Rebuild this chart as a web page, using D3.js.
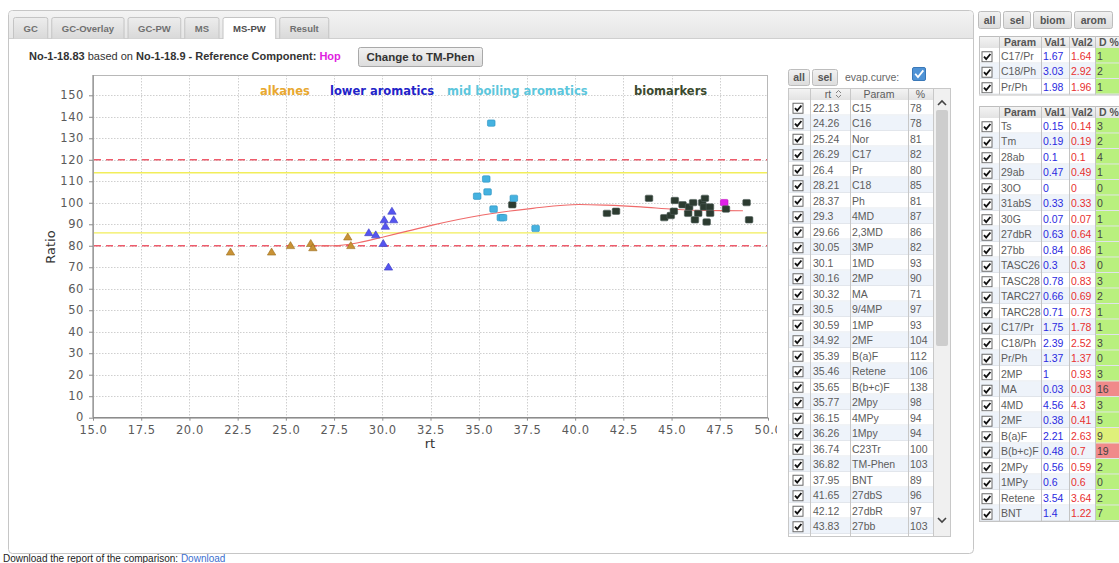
<!DOCTYPE html>
<html><head><meta charset="utf-8">
<script src="https://cdn.jsdelivr.net/npm/d3@7"></script>
<style>
html,body{margin:0;padding:0;background:#fff;overflow:hidden}
svg{display:block}
</style></head><body>
<svg id="root" width="1119" height="563"></svg>
<script>
// ---------------- DATA ----------------
const tabs = ["GC","GC-Overlay","GC-PW","MS","MS-PW","Result"];
const activeTab = "MS-PW";
const sampleName = "No-1-18.83";
const baseName = "No-1-18.9";
const referenceComponent = "Hop";
const switchTarget = "TM-Phen";

const groupNames = ["alkanes","lower aromatics","mid boiling aromatics","biomarkers"];

const rtValues = [22.13,24.26,25.24,26.29,26.4,28.21,28.37,29.3,29.66,30.05,30.1,30.16,30.32,30.5,30.59,
  34.92,35.39,35.46,35.65,35.77,36.15,36.26,36.74,36.82,37.95,41.65,42.12,43.83,
  44.62,44.96,45.12,45.17,45.57,45.86,45.91,46.12,46.21,46.38,46.59,46.68,46.73,46.82,46.99,47.0,47.73,47.82,48.89,49.02];
const paramNames = ["C15","C16","Nor","C17","Pr","C18","Ph","4MD","2,3MD","3MP","1MD","2MP","MA","9/4MP","1MP",
  "2MF","B(a)F","Retene","B(b+c)F","2Mpy","4MPy","1Mpy","C23Tr","TM-Phen","BNT","27dbS","27dbR","27bb",
  "Ts","Tm","28ab","29ab","29Ts","30d","29ba","30ab","30O","30ba","31abS","31abR","30G","32abS","32abR","33abS","Hop","33abR","34abS","34abR"];
const ratioValues = [78,78,81,82,80,85,81,87,86,82,93,90,71,97,93,
  104,112,106,138,98,94,94,100,103,89,96,97,103,
  94,95,97,102,100,96,99,101,93,96,101,99,103,92,99,96,101,98,101,93];
const groupOf = [0,0,0,0,0,0,0,1,1,1,1,1,1,1,1,
  2,2,2,2,2,2,2,3,2,2,3,3,3,
  3,3,3,3,3,3,3,3,3,3,3,3,3,3,3,3,3,3,3,3];

// evaporation curve
const curveRt =    [26.3,27.5,28.8,30.0,31.3,32.6,35.2,37.8,40.2,41.6,43.4,45.1,46.8,48.7];
const curveRatio = [80,  80,  81.5,84,  86.8,89.6,94.3,97.4,99.2,98.9,98.1,97.0,96.4,96.3];

const dashedLimits = [80,120];
const yellowLimits = [86,114];
const xTicks = [15,17.5,20,22.5,25,27.5,30,32.5,35,37.5,40,42.5,45,47.5,50];
const yTicks = [0,10,20,30,40,50,60,70,80,90,100,110,120,130,140,150];

// right-side tables
const t1Params = ["C17/Pr","C18/Ph","Pr/Ph"];
const t1Val1 = [1.67,3.03,1.98];
const t1Val2 = [1.64,2.92,1.96];
const t1D = [1,2,1];

const t2Params = ["Ts","Tm","28ab","29ab","30O","31abS","30G","27dbR","27bb","TASC26","TASC28","TARC27","TARC28",
  "C17/Pr","C18/Ph","Pr/Ph","2MP","MA","4MD","2MF","B(a)F","B(b+c)F","2MPy","1MPy","Retene","BNT"];
const t2Val1 = [0.15,0.19,0.1,0.47,0,0.33,0.07,0.63,0.84,0.3,0.78,0.66,0.71,1.75,2.39,1.37,1,0.03,4.56,0.38,2.21,0.48,0.56,0.6,3.54,1.4];
const t2Val2 = [0.14,0.19,0.1,0.49,0,0.33,0.07,0.64,0.86,0.3,0.83,0.69,0.73,1.78,2.52,1.37,0.93,0.03,4.3,0.41,2.63,0.7,0.59,0.6,3.64,1.22];
const t2D = [3,2,4,1,0,0,1,1,1,0,3,2,1,1,3,0,3,16,3,5,9,19,2,0,2,7];

// ---------------- STYLE / LAYOUT ----------------
const UI = "'Liberation Sans', Arial, sans-serif";
const CH = "'DejaVu Sans', sans-serif";
const groupLegendColor = ["#e8a830","#2323c8","#5cc6dc","#3b4a2e"];
const groupFill = ["#c99235","#5555f0","#45b2e0","#2c3b30"];
const groupStroke = ["#9a6e20","#3a3ac0","#2a90c0","#50605a"];
const legendX = [260,330,447,634];

const svg = d3.select("#root");
const defs = svg.append("defs");
function grad(id, c1, c2){
  const g = defs.append("linearGradient").attr("id",id).attr("x1",0).attr("y1",0).attr("x2",0).attr("y2",1);
  g.append("stop").attr("offset","0%").attr("stop-color",c1);
  g.append("stop").attr("offset","100%").attr("stop-color",c2);
}
grad("tabG","#ededed","#d9d9d9");
grad("btnG","#f2f2f2","#dcdcdc");
grad("hdrG","#f4f4f4","#e2e2e2");
grad("barG","#f3f3f3","#e6e6e6");

// outer panel
svg.append("rect").attr("x",8.5).attr("y",10.5).attr("width",965).attr("height",543).attr("rx",4)
  .attr("fill","#fff").attr("stroke","#c6c6c6");
svg.append("path").attr("d","M9,38 L9,15 Q9,11 13,11 L969,11 Q973,11 973,15 L973,38 Z").attr("fill","url(#barG)");
svg.append("line").attr("x1",9).attr("x2",973).attr("y1",38.5).attr("y2",38.5).attr("stroke","#cfcfcf");

// tabs
(function(){
  let x = 13.5;
  tabs.forEach(t=>{
    const g = svg.append("g");
    const txt = g.append("text").attr("font-family",UI).attr("font-size","9.5px").attr("font-weight","bold")
      .attr("fill", t===activeTab?"#4d4d4d":"#707070").text(t);
    const w = txt.node().getComputedTextLength() + 20;
    const sel = t===activeTab;
    g.insert("path","text").attr("d",`M${x},${sel?39:38.5} L${x},19.5 Q${x},17.5 ${x+2},17.5 L${x+w-2},17.5 Q${x+w},17.5 ${x+w},19.5 L${x+w},${sel?39:38.5}`)
      .attr("fill", sel?"#fff":"url(#tabG)").attr("stroke","#c4c4c4");
    txt.attr("x", x + w/2).attr("y", 31.5).attr("text-anchor","middle");
    x += w + 4;
  });
})();

// header line
const hdr = svg.append("text").attr("x",29).attr("y",60).attr("font-family",UI).attr("font-size","11px").attr("fill","#333");
hdr.append("tspan").attr("font-weight","bold").text(sampleName);
hdr.append("tspan").text(" based on ");
hdr.append("tspan").attr("font-weight","bold").text(baseName + " - Reference Component: ");
hdr.append("tspan").attr("font-weight","bold").attr("fill","#e01ee0").text(referenceComponent);
svg.append("rect").attr("x",358.5).attr("y",47.5).attr("width",124).attr("height",19).attr("rx",2)
  .attr("fill","url(#btnG)").attr("stroke","#a9a9a9");
svg.append("text").attr("x",420.5).attr("y",61).attr("text-anchor","middle").attr("font-family",UI)
  .attr("font-size","11.5px").attr("font-weight","bold").attr("fill","#333").text("Change to " + switchTarget);

// ---------------- CHART ----------------
defs.append("clipPath").attr("id","chartClip").append("rect").attr("x",9).attr("y",70).attr("width",768).attr("height",400);
const chart = svg.append("g").attr("clip-path","url(#chartClip)");
const X0 = 93, X1 = 768, Y0 = 417.7, YT = 75;
const x = d3.scaleLinear().domain([15,50]).range([X0,X1]);
const y = d3.scaleLinear().domain([0,159.45]).range([Y0,YT]);

chart.append("rect").attr("x",X0).attr("y",YT).attr("width",X1-X0).attr("height",Y0-YT).attr("fill","#fff");
// grid
chart.append("g").selectAll("line").data(xTicks.slice(1,-1)).join("line")
  .attr("x1",d=>Math.round(x(d))+0.5).attr("x2",d=>Math.round(x(d))+0.5).attr("y1",YT).attr("y2",Y0)
  .attr("stroke","#cfcfcf").attr("stroke-dasharray","1.5,1.5");
chart.append("g").selectAll("line").data(yTicks.slice(1)).join("line")
  .attr("y1",d=>Math.round(y(d))+0.5).attr("y2",d=>Math.round(y(d))+0.5).attr("x1",X0).attr("x2",X1)
  .attr("stroke","#cfcfcf").attr("stroke-dasharray","1.5,1.5");
// frame
chart.append("rect").attr("x",X0+0.5).attr("y",YT+0.5).attr("width",X1-X0-1).attr("height",Y0-YT)
  .attr("fill","none").attr("stroke","#b8b8b8");

// limit lines
chart.append("g").selectAll("line").data(yellowLimits).join("line")
  .attr("x1",X0+1).attr("x2",X1-1).attr("y1",d=>y(d)).attr("y2",d=>y(d))
  .attr("stroke","#f2ee5a").attr("stroke-width",1.4);
chart.append("g").selectAll("line").data(dashedLimits).join("line")
  .attr("x1",X0+1).attr("x2",X1-1).attr("y1",d=>y(d)).attr("y2",d=>y(d))
  .attr("stroke","#ee5c6c").attr("stroke-width",1.4).attr("stroke-dasharray","7,5");

// legend
chart.append("g").selectAll("text").data(groupNames).join("text")
  .attr("x",(d,i)=>legendX[i]).attr("y",95).attr("font-family",CH).attr("font-size","11.5px").attr("font-weight","bold")
  .attr("fill",(d,i)=>groupLegendColor[i]).text(d=>d);

// evap curve
const curveData = curveRt.map((r,i)=>[r,curveRatio[i]]);
chart.append("path").datum(curveData)
  .attr("d", d3.line().x(d=>x(d[0])).y(d=>y(d[1])).curve(d3.curveMonotoneX))
  .attr("fill","none").attr("stroke","#ef6a6a").attr("stroke-width",1.1);

// axes
const xAxis = d3.axisBottom(x).tickValues(xTicks).tickFormat(d3.format(".1f")).tickSize(3).tickPadding(5);
const gx = chart.append("g").attr("transform",`translate(0,${Y0})`).call(xAxis);
const yAxis = d3.axisLeft(y).tickValues(yTicks).tickFormat(d3.format("d")).tickSize(4).tickPadding(5);
const gy = chart.append("g").attr("transform",`translate(${X0},0)`).call(yAxis);
[gx,gy].forEach(g=>{
  g.select(".domain").attr("stroke","#8c8c8c").attr("stroke-width",1.2);
  g.selectAll(".tick line").attr("stroke","#8c8c8c");
  g.selectAll(".tick text").attr("font-family",CH).attr("font-size","11.5px").attr("fill","#5a5a5a").attr("letter-spacing","0.6px");
});
gy.select(".domain").attr("d",`M0,${YT}V${Y0}`);
gx.select(".domain").attr("d",`M${X0},0H${X1}`);
gy.selectAll(".tick text").filter(d=>d===0).attr("dy","0.2em");

chart.append("text").attr("transform",`translate(55,247) rotate(-90)`).attr("text-anchor","middle")
  .attr("font-family",CH).attr("font-size","13px").attr("fill","#333").text("Ratio");
chart.append("text").attr("x",430).attr("y",448).attr("text-anchor","middle")
  .attr("font-family",CH).attr("font-size","13px").attr("fill","#333").text("rt");

// points
const pts = rtValues.map((r,i)=>({rt:r, v:ratioValues[i], g:groupOf[i], name:paramNames[i]}));
const ptG = chart.append("g");
pts.forEach(p=>{
  const cx = x(p.rt), cy = y(p.v) + 2;
  const isRef = p.name === referenceComponent;
  if (p.g <= 1) {
    ptG.append("path").attr("d",`M${cx},${cy-4} L${cx+4.2},${cy+3} L${cx-4.2},${cy+3} Z`)
      .attr("fill",groupFill[p.g]).attr("stroke",groupStroke[p.g]).attr("stroke-width",0.6);
  } else {
    ptG.append("rect").attr("x",cx-3.8).attr("y",cy-3.2).attr("width",7.6).attr("height",6.4).attr("rx",1.2)
      .attr("fill", isRef ? "#e020e8" : groupFill[p.g])
      .attr("stroke", isRef ? "#c010c0" : groupStroke[p.g]).attr("stroke-width",0.6);
  }
});

// ---------------- helpers ----------------
function checkbox(g, cx, cy, blue){
  const s = blue ? 14 : 11;
  g.append("rect").attr("x",cx - s/2 + 0.5).attr("y",cy - s/2 + 0.5).attr("width",s-1).attr("height",s-1)
    .attr("fill", blue ? "#4f93d6" : "#fff").attr("stroke", blue ? "#3a78b8" : "#6a6a6a").attr("rx", blue?1.5:0);
  const k = s/11;
  g.append("path").attr("d",`M${cx-3*k},${cy-0.2*k} L${cx-0.8*k},${cy+2.4*k} L${cx+3.4*k},${cy-2.8*k}`)
    .attr("fill","none").attr("stroke", blue ? "#fff" : "#111").attr("stroke-width",1.8);
}
function button(g, x0, y0, w, h, label, fs){
  g.append("rect").attr("x",x0+0.5).attr("y",y0+0.5).attr("width",w).attr("height",h).attr("rx",2)
    .attr("fill","url(#btnG)").attr("stroke","#bdbdbd");
  g.append("text").attr("x",x0+w/2+0.5).attr("y",y0+h/2+4).attr("text-anchor","middle").attr("font-family",UI)
    .attr("font-size",fs).attr("font-weight","bold").attr("fill","#555").text(label);
}

// ---------------- MIDDLE TABLE ----------------
const mid = svg.append("g");
button(mid, 788, 69, 21, 16, "all", "10.5px");
button(mid, 812, 69, 25, 16, "sel", "10.5px");
mid.append("text").attr("x",845).attr("y",81).attr("font-family",UI).attr("font-size","10.5px").attr("fill","#666").text("evap.curve:");
checkbox(mid, 919, 74, true);

const mCols = [788,810,850,908,933];
const mHdrTop = 88, mRowTop = 100, rowH = 15.5, mBottom = 536;
mid.append("rect").attr("x",788.5).attr("y",mHdrTop+0.5).attr("width",162).attr("height",mBottom-mHdrTop).attr("fill","#fff").attr("stroke","#c8c8c8");
mid.append("rect").attr("x",788.5).attr("y",mHdrTop+0.5).attr("width",145).attr("height",12).attr("fill","url(#hdrG)").attr("stroke","#c8c8c8");
const mBody = mid.append("g");
// only the rows that fit in the scroll viewport are shown
const visibleRows = d3.range(rtValues.length).filter(i => mRowTop + (i+1)*rowH <= mBottom);
visibleRows.forEach(i=>{
  const r = rtValues[i];
  const top = mRowTop + i*rowH;
  const row = mBody.append("g");
  row.append("rect").attr("x",789).attr("y",top).attr("width",144).attr("height",rowH)
    .attr("fill", i%2 ? "#eef3fa" : "#fff");
  row.append("line").attr("x1",789).attr("x2",933).attr("y1",top+rowH-0.5).attr("y2",top+rowH-0.5).attr("stroke","#e2e6ec");
  checkbox(row, 798, top+rowH/2+0.5, false);
  row.append("text").attr("x",813).attr("y",top+11.5).attr("font-family",UI).attr("font-size","10.5px").attr("fill","#5c5c5c").text(r);
  row.append("text").attr("x",852).attr("y",top+11.5).attr("font-family",UI).attr("font-size","10.5px").attr("fill","#5c5c5c").text(paramNames[i]);
  row.append("text").attr("x",910).attr("y",top+11.5).attr("font-family",UI).attr("font-size","10.5px").attr("fill","#5c5c5c").text(ratioValues[i]);
});
mCols.slice(1).forEach(cx=>{
  mid.append("line").attr("x1",cx+0.5).attr("x2",cx+0.5).attr("y1",mHdrTop).attr("y2",mBottom).attr("stroke","#c8c8c8");
});
const mh = mid.append("g").attr("font-family",UI).attr("font-size","10.5px").attr("fill","#5c5c5c");
mh.append("text").attr("x",828).attr("y",98).attr("text-anchor","middle").text("rt");
mh.append("path").attr("d","M836,93 l2.5,-2.5 l2.5,2.5 M836,95 l2.5,2.5 l2.5,-2.5").attr("fill","none").attr("stroke","#777").attr("stroke-width",0.9);
mh.append("text").attr("x",879).attr("y",98).attr("text-anchor","middle").text("Param");
mh.append("text").attr("x",920.5).attr("y",98).attr("text-anchor","middle").text("%");
// scrollbar
mid.append("rect").attr("x",934).attr("y",89).attr("width",16).attr("height",mBottom-89).attr("fill","#f0f0f0");
mid.append("rect").attr("x",936).attr("y",110).attr("width",12).attr("height",236).attr("rx",2).attr("fill","#cdcdcd");
mid.append("path").attr("d","M938,105 l4,-4 l4,4").attr("fill","none").attr("stroke","#444").attr("stroke-width",1.6);
mid.append("path").attr("d","M938,518 l4,4 l4,-4").attr("fill","none").attr("stroke","#444").attr("stroke-width",1.6);

// ---------------- RIGHT TABLES ----------------
const right = svg.append("g");
button(right, 978, 11, 22, 17, "all", "10.5px");
button(right, 1003, 11, 27, 17, "sel", "10.5px");
button(right, 1033, 11, 38, 17, "biom", "10.5px");
button(right, 1074, 11, 38, 17, "arom", "10.5px");

const rCols = [979,999,1041,1069,1095,1130];
function dColor(d){ return d > 10 ? "#f08a8a" : (d >= 8 ? "#dff07a" : "#b9f07e"); }
function rightTable(top, params, v1, v2, dd){
  const g = right.append("g");
  const hH = 12, n = params.length;
  const bottom = top + hH + n*rowH;
  g.append("rect").attr("x",979.5).attr("y",top+0.5).attr("width",150).attr("height",hH).attr("fill","url(#hdrG)").attr("stroke","#bdbdbd");
  params.forEach((p,i)=>{
    const t = top + hH + i*rowH;
    g.append("rect").attr("x",980).attr("y",t).attr("width",115).attr("height",rowH).attr("fill", i%2 ? "#eef3fa" : "#fff");
    g.append("rect").attr("x",1095).attr("y",t).attr("width",30).attr("height",rowH).attr("fill", dColor(dd[i]));
    checkbox(g, 987, t+rowH/2+1, false);
    g.append("text").attr("x",1001).attr("y",t+11.5).attr("font-family",UI).attr("font-size","10.5px").attr("fill","#5c5c5c").text(p);
    g.append("text").attr("x",1043).attr("y",t+11.5).attr("font-family",UI).attr("font-size","10.5px").attr("fill","#2a2ae0").text(v1[i]);
    g.append("text").attr("x",1071).attr("y",t+11.5).attr("font-family",UI).attr("font-size","10.5px").attr("fill","#e83030").text(v2[i]);
    g.append("text").attr("x",1097).attr("y",t+11.5).attr("font-family",UI).attr("font-size","10.5px").attr("fill","#444").text(dd[i]);
    g.append("line").attr("x1",980).attr("x2",1119).attr("y1",t+rowH-0.5).attr("y2",t+rowH-0.5).attr("stroke","#e0e4ea");
  });
  rCols.slice(1,-1).forEach(cx=>{
    g.append("line").attr("x1",cx+0.5).attr("x2",cx+0.5).attr("y1",top).attr("y2",bottom).attr("stroke","#c4c4c4");
  });
  g.append("line").attr("x1",979.5).attr("x2",979.5).attr("y1",top).attr("y2",bottom).attr("stroke","#c4c4c4");
  g.append("line").attr("x1",979).attr("x2",1119).attr("y1",bottom+0.5).attr("y2",bottom+0.5).attr("stroke","#c4c4c4");
  const hg = g.append("g").attr("font-family",UI).attr("font-size","10.5px").attr("font-weight","bold").attr("fill","#555");
  hg.append("text").attr("x",1020).attr("y",top+10).attr("text-anchor","middle").text("Param");
  hg.append("text").attr("x",1055).attr("y",top+10).attr("text-anchor","middle").text("Val1");
  hg.append("text").attr("x",1082).attr("y",top+10).attr("text-anchor","middle").text("Val2");
  hg.append("text").attr("x",1099).attr("y",top+10).text("D %");
}
rightTable(36, t1Params, t1Val1, t1Val2, t1D);
rightTable(106, t2Params, t2Val1, t2Val2, t2D);

// ---------------- FOOTER ----------------
const ft = svg.append("text").attr("x",3).attr("y",562).attr("font-family",UI).attr("font-size","10px").attr("fill","#222");
ft.append("tspan").text("Download the report of the comparison: ");
ft.append("tspan").attr("fill","#3b6fd0").text("Download");
</script>
</body></html>
